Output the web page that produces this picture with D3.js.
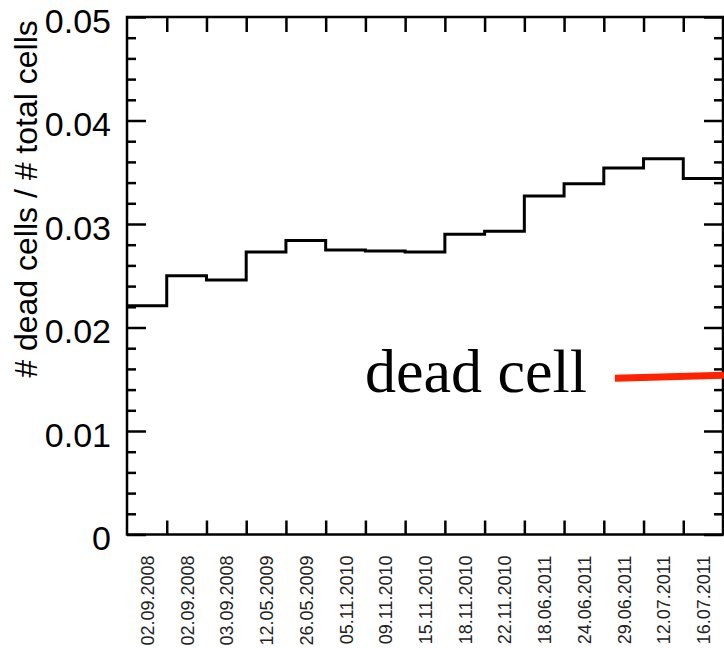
<!DOCTYPE html>
<html>
<head>
<meta charset="utf-8">
<script src="https://cdn.jsdelivr.net/npm/d3@7"></script>
<style>
  body { margin: 0; background: #fff; }
  svg { display: block; }
</style>
</head>
<body>
<div id="canvas"></div>
<script>
// -------------------------------------------- Data
const runDates = [
  "02.09.2008", "02.09.2008", "03.09.2008", "12.05.2009", "26.05.2009",
  "05.11.2010", "09.11.2010", "15.11.2010", "18.11.2010", "22.11.2010",
  "18.06.2011", "24.06.2011", "29.06.2011", "12.07.2011", "16.07.2011"
];
const deadFraction = [
  0.0221, 0.0250, 0.0246, 0.0273, 0.0284,
  0.0275, 0.0274, 0.0273, 0.0290, 0.0293,
  0.0327, 0.0339, 0.0354, 0.0363, 0.0344
];
const yTicks = [0, 0.01, 0.02, 0.03, 0.04, 0.05];
const yTickLabels = ["0", "0.01", "0.02", "0.03", "0.04", "0.05"];
const yTitle = "# dead cells / # total cells";
const legendLabel = "dead cell";
// red marker line, in bin units / y units
const legendLine = [[12.28, 0.0151], [15.05, 0.0154]];

// -------------------------------------------- Dimensiones
const width = 724;
const height = 648;
const margin = { top: 17, left: 127, bottom: 113.5, right: 1 };
const iwidth = width - margin.left - margin.right;
const iheight = height - margin.top - margin.bottom;

const svg = d3.select("#canvas").append("svg")
  .attr("width", width)
  .attr("height", height);

const g = svg.append("g")
  .attr("transform", `translate(${margin.left},${margin.top})`);

// -------------------------------------------- Escalas
const x = d3.scaleBand().domain(d3.range(runDates.length)).range([0, iwidth]).padding(0);
const xEdge = d3.scaleLinear().domain([0, runDates.length]).range([0, iwidth]);
const y = d3.scaleLinear().domain([0, 0.05]).range([iheight, 0]);

const minorY = d3.range(0, 0.0501, 0.002).filter(v => Math.abs(v / 0.01 - Math.round(v / 0.01)) > 1e-6);
const edges = d3.range(1, runDates.length);

const sans = "'Liberation Sans', Arial, sans-serif";

// -- Eje Y izquierdo (major + minor)
g.append("g")
  .call(d3.axisLeft(y).tickValues(yTicks).tickSize(-19).tickFormat(""))
  .call(a => a.select(".domain").remove())
  .selectAll("line").attr("stroke", "#000").attr("stroke-width", 2.5);
g.append("g")
  .call(d3.axisLeft(y).tickValues(minorY).tickSize(-9).tickFormat(""))
  .call(a => a.select(".domain").remove())
  .selectAll("line").attr("stroke", "#000").attr("stroke-width", 2.5);

// -- Eje Y derecho
g.append("g").attr("transform", `translate(${iwidth},0)`)
  .call(d3.axisRight(y).tickValues(yTicks).tickSize(-19).tickFormat(""))
  .call(a => a.select(".domain").remove())
  .selectAll("line").attr("stroke", "#000").attr("stroke-width", 2.5);
g.append("g").attr("transform", `translate(${iwidth},0)`)
  .call(d3.axisRight(y).tickValues(minorY).tickSize(-9).tickFormat(""))
  .call(a => a.select(".domain").remove())
  .selectAll("line").attr("stroke", "#000").attr("stroke-width", 2.5);

// -- Etiquetas Y
g.selectAll(".ylab").data(yTicks).enter().append("text")
  .attr("class", "ylab")
  .attr("x", -16)
  .attr("y", d => y(d) + 4)
  .attr("dy", "0.35em")
  .attr("text-anchor", "end")
  .style("font-family", sans)
  .style("font-size", "34px")
  .text((d, i) => yTickLabels[i]);

// -- Eje X (abajo y arriba)
g.append("g").attr("transform", `translate(0,${iheight})`)
  .call(d3.axisBottom(xEdge).tickValues(edges).tickSize(-14).tickFormat(""))
  .call(a => a.select(".domain").remove())
  .selectAll("line").attr("stroke", "#000").attr("stroke-width", 2.5);
g.append("g")
  .call(d3.axisTop(xEdge).tickValues(edges).tickSize(-15).tickFormat(""))
  .call(a => a.select(".domain").remove())
  .selectAll("line").attr("stroke", "#000").attr("stroke-width", 2.5);

// -- Etiquetas X
g.selectAll(".xlab").data(runDates).enter().append("text")
  .attr("class", "xlab")
  .attr("transform", (d, i) => `translate(${x(i) + x.bandwidth() / 2 + 7},${iheight + 21}) rotate(-90)`)
  .attr("text-anchor", "end")
  .style("font-family", sans)
  .style("font-size", "18px")
  .style("fill", "#222")
  .text(d => d);

// -- Marco
g.append("rect")
  .attr("x", 0).attr("y", 0)
  .attr("width", iwidth).attr("height", iheight)
  .attr("fill", "none")
  .attr("stroke", "#000")
  .attr("stroke-width", 2.5);

// -- Histograma
const steps = deadFraction.map((v, i) => [x(i), y(v)]);
steps.push([x(runDates.length - 1) + x.bandwidth(), y(deadFraction[deadFraction.length - 1])]);
g.append("path")
  .datum(steps)
  .attr("fill", "none")
  .attr("stroke", "#000")
  .attr("stroke-width", 3)
  .attr("d", d3.line().curve(d3.curveStepAfter));

// -- Título Y
svg.append("text")
  .attr("transform", `translate(37,${199}) rotate(-90)`)
  .attr("text-anchor", "middle")
  .style("font-family", sans)
  .style("font-size", "32px")
  .text(yTitle);

// -- Leyenda
g.append("text")
  .attr("x", 365 - margin.left)
  .attr("y", 391.5 - margin.top)
  .style("font-family", "'Liberation Serif', 'Times New Roman', serif")
  .style("font-size", "62px")
  .text(legendLabel);

g.append("line")
  .attr("x1", xEdge(legendLine[0][0])).attr("y1", y(legendLine[0][1]))
  .attr("x2", xEdge(legendLine[1][0])).attr("y2", y(legendLine[1][1]))
  .attr("stroke", "#ff2200")
  .attr("stroke-width", 7);
</script>
</body>
</html>
